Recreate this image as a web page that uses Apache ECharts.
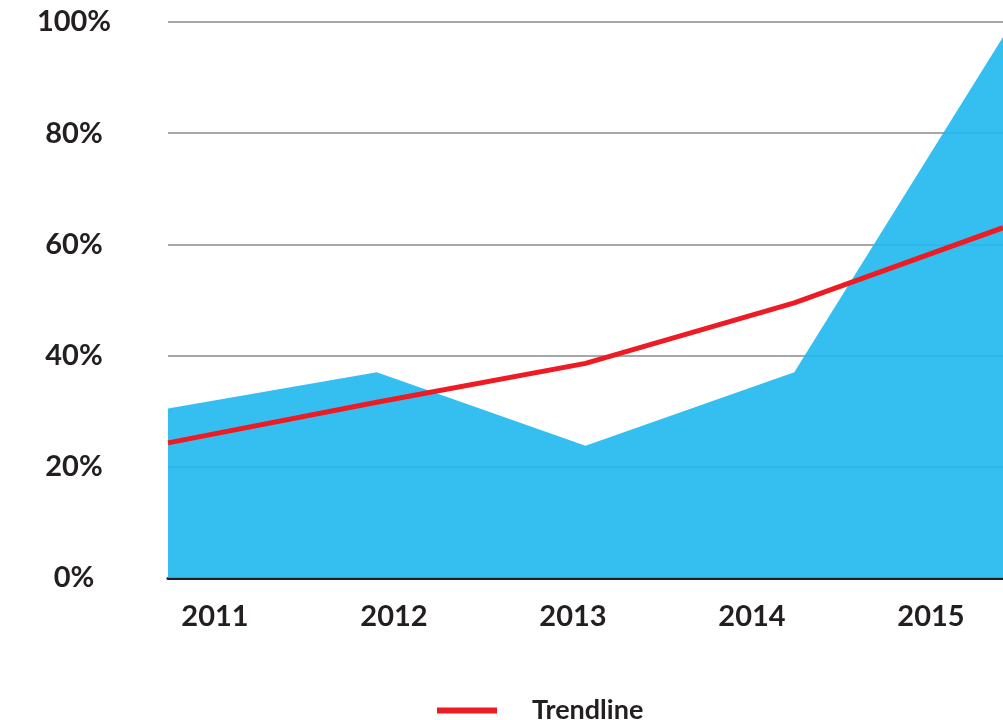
<!DOCTYPE html>
<html>
<head>
<meta charset="utf-8">
<script src="https://cdn.jsdelivr.net/npm/echarts@6/dist/echarts.min.js"></script>
<style>
  html, body { margin: 0; padding: 0; background: #fff; }
  #chart { width: 1003px; height: 720px; }
</style>
</head>
<body>
<div id="chart"></div>
<script>
// 年份
var years = ['2011', '2012', '2013', '2014', '2015'];
// 蓝色面积 (%)
var shareValues = [30.5, 37, 23.8, 37, 97.3];
// 趋势线 (%)
var trendValues = [24.3, 31.6, 38.6, 49.5, 63];
// y轴刻度
var yTicks = { min: 0, max: 100, step: 20 };

var labelFont = { fontFamily: 'Lato', fontWeight: 'bold', fontSize: 29, color: '#231f20' };

var myChart = echarts.init(document.getElementById('chart'));
var option = {
  animation: false,
  grid: [
    { left: 168, right: 0, top: 22, bottom: 142 },
    // 只用来放年份文字
    { left: 215, right: 72, top: 22, bottom: 142 }
  ],
  legend: {
    data: ['Trendline'],
    left: 432,
    top: 692,
    icon: 'rect',
    itemWidth: 60,
    itemHeight: 6,
    textStyle: { fontFamily: 'Lato', fontWeight: 'bold', fontSize: 27, color: '#231f20', padding: [0, 0, 0, 30] }
  },
  xAxis: [
    {
      type: 'category',
      gridIndex: 0,
      data: years,
      boundaryGap: false,
      axisLine: { show: true, lineStyle: { color: '#231f20', width: 3 } },
      axisTick: { show: false },
      axisLabel: { show: false },
      splitLine: { show: false }
    },
    {
      type: 'category',
      gridIndex: 1,
      data: years,
      boundaryGap: false,
      axisLine: { show: false },
      axisTick: { show: false },
      axisLabel: Object.assign({ margin: 24 }, labelFont),
      splitLine: { show: false }
    }
  ],
  yAxis: [
    {
      type: 'value',
      gridIndex: 0,
      min: yTicks.min,
      max: yTicks.max,
      interval: yTicks.step,
      axisLine: { show: false },
      axisTick: { show: false },
      axisLabel: Object.assign({ formatter: '{value}%', align: 'center', margin: 94, padding: [8, 0, 0, 0] }, labelFont),
      splitLine: { show: true, lineStyle: { color: '#a7a7a9', width: 2 } }
    },
    {
      type: 'value',
      gridIndex: 1,
      min: 0,
      max: 100,
      show: false
    }
  ],
  series: [
    {
      name: 'Share',
      type: 'line',
      xAxisIndex: 0,
      yAxisIndex: 0,
      data: shareValues,
      showSymbol: false,
      symbol: 'none',
      lineStyle: { width: 0 },
      areaStyle: { color: 'rgba(33,185,239,0.91)', opacity: 1 },
      z: 2
    },
    {
      name: 'Trendline',
      type: 'line',
      xAxisIndex: 0,
      yAxisIndex: 0,
      data: trendValues,
      showSymbol: false,
      symbol: 'none',
      itemStyle: { color: '#ed1c24' },
      lineStyle: { color: '#ed1c24', width: 5 },
      z: 3
    }
  ]
};
myChart.setOption(option);
</script>
</body>
</html>
